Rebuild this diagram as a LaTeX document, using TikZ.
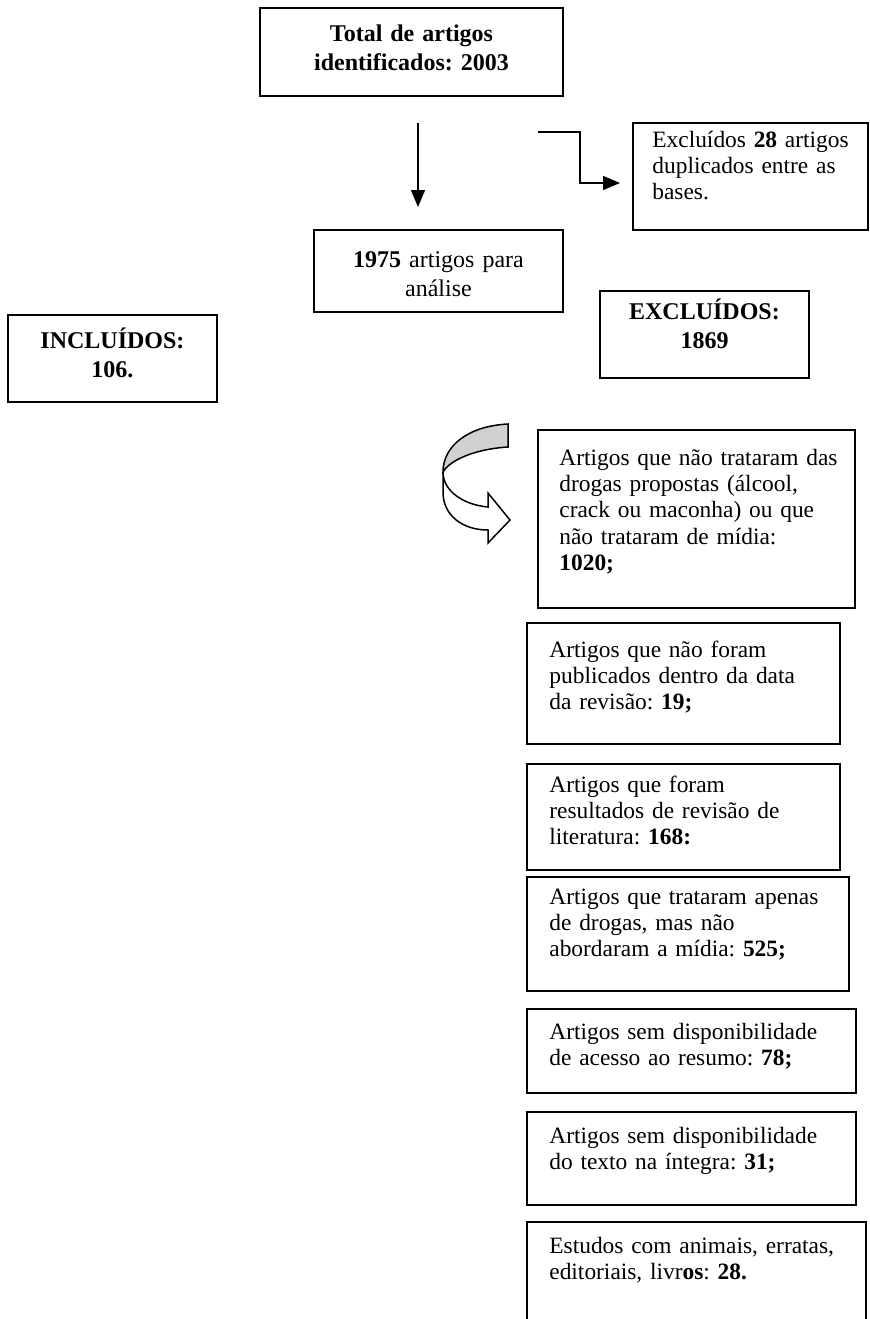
\documentclass[tikz,border=0pt]{standalone}
\usepackage{fontspec}
\setmainfont{Liberation Serif}
\frenchspacing
\usetikzlibrary{arrows.meta}

\tikzset{
  caixa/.style={draw, line width=0.8pt, anchor=north west, inner sep=0pt, outer sep=0pt},
  texto/.style={font=\fontsize{11.7}{13.2}\selectfont, text width=160pt, align=left, inner sep=0pt, anchor=base west},
  centro/.style={font=\fontsize{12}{14.5}\selectfont, text width=120pt, align=center, inner sep=0pt, anchor=base},
  negrito/.style={centro, font=\fontsize{12}{14.5}\selectfont\bfseries},
  seta/.style={-{Triangle[length=8.5pt,width=7pt]}, line width=0.75pt}
}

\begin{document}
\begin{tikzpicture}[x=0.5pt, y=-0.5pt]
  \useasboundingbox (0,0) rectangle (870,1319);
  % Top of the flow
  \node[caixa, minimum width=151.5pt, minimum height=44pt] (total) at (260,8) {};
  \node[negrito] (ttotal) at ([yshift=-16.5pt]total.north) {Total de artigos\\identificados: 2003};
  \node[caixa, minimum width=124.5pt, minimum height=41pt] (analise) at (314,230) {};
  \node[centro] (tanalise) at ([yshift=-18.5pt]analise.north) {\textbf{1975} artigos para\\análise};
  \node[caixa, minimum width=117.5pt, minimum height=53.5pt] (dup) at (633,123) {};
  \node[texto] (tdup) at ([shift={(9.5pt,-12pt)}]dup.north west) {Excluídos \textbf{28} artigos\\duplicados entre as\\bases.};
  % Totals
  \node[caixa, minimum width=104.5pt, minimum height=43.5pt] (excl) at (600,291) {};
  \node[negrito] (texcl) at ([yshift=-14pt]excl.north) {EXCLUÍDOS:\\1869};
  \node[caixa, minimum width=104.5pt, minimum height=43.5pt] (incl) at (8,315) {};
  \node[negrito] (tincl) at ([yshift=-16.5pt]incl.north) {INCLUÍDOS:\\106.};
  % Arrows
  \coordinate (s1) at (418,123);
  \coordinate (s2) at (418,207);
  \draw[seta] (s1) -- (s2);
  \coordinate (c1) at (538,132);
  \draw[seta, shorten >=6.5pt] (c1) -- (580,132) |- ([yshift=-3.25pt]dup.west);
  % Curved arrow
  \draw[line width=0.75pt, fill=black!18] (508,424) .. controls (468,426) and (443,446) .. (443,472)
    .. controls (450,460) and (475,449) .. (508,447) -- cycle;
  \draw[line width=0.75pt, fill=white] (443,472) .. controls (443,492) and (465,505) .. (488,507)
    -- (488,493) -- (510,520) -- (488,543) -- (488,530)
    .. controls (462,530) and (443,515) .. (443,492) -- cycle;
  % Exclusion reasons
  \foreach \nome/\esq/\topo/\dir/\base in {b1020/538/430/855/608, b19/527/623/840/744, b168/527/764/840/870,
      b525/527/877/849/991, b78/527/1009/856/1093, b31/527/1112/856/1205, b28/527/1222/866/1360}{
    \pgfmathsetmacro\larg{(\dir-\esq)/2}
    \pgfmathsetmacro\alt{(\base-\topo)/2}
    \node[caixa, minimum width=\larg pt, minimum height=\alt pt] (\nome) at (\esq,\topo) {};
  }
  \node[texto] (t1020) at ([shift={(10.5pt,-17.5pt)}]b1020.north west) {Artigos que não trataram das\\drogas propostas (álcool,\\crack ou maconha) ou que\\não trataram de mídia:\\\textbf{1020;}};
  \node[texto] (t19) at ([shift={(11pt,-17pt)}]b19.north west) {Artigos que não foram\\publicados dentro da data\\da revisão: \textbf{19;}};
  \node[texto] (t168) at ([shift={(11pt,-14pt)}]b168.north west) {Artigos que foram\\resultados de revisão de\\literatura: \textbf{168:}};
  \node[texto] (t525) at ([shift={(11pt,-13.5pt)}]b525.north west) {Artigos que trataram apenas\\de drogas, mas não\\abordaram a mídia: \textbf{525;}};
  \node[texto] (t78) at ([shift={(11pt,-15pt)}]b78.north west) {Artigos sem disponibilidade\\de acesso ao resumo: \textbf{78;}};
  \node[texto] (t31) at ([shift={(11pt,-15.5pt)}]b31.north west) {Artigos sem disponibilidade\\do texto na íntegra: \textbf{31;}};
  \node[texto] (t28) at ([shift={(11pt,-15.5pt)}]b28.north west) {Estudos com animais, erratas,\\editoriais, livr\textbf{os}: \textbf{28.}};
\end{tikzpicture}
\end{document}
